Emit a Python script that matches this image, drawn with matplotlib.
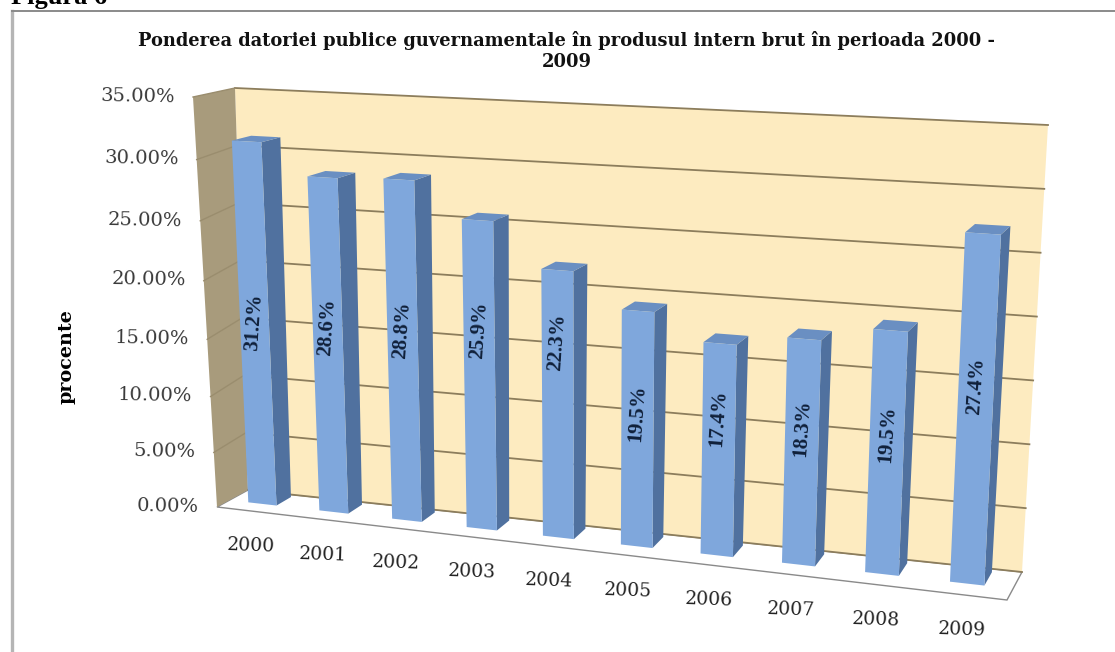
import matplotlib
matplotlib.use('Agg')
import matplotlib.pyplot as plt
from matplotlib.patches import Polygon
import numpy as np

years = ['2000', '2001', '2002', '2003', '2004', '2005', '2006', '2007', '2008', '2009']
values = [31.2, 28.6, 28.8, 25.9, 22.3, 19.5, 17.4, 18.3, 19.5, 27.4]
y_ticks = [0, 5, 10, 15, 20, 25, 30, 35]
y_max = 35.0

title = 'Ponderea datoriei publice guvernamentale în produsul intern brut în perioada 2000 -\n2009'

# how far each value label sits above the middle of its bar, in percent
label_lift = [0.4, 1.8, 2.0, 3.9, 5.3, 1.4, 2.7, 2.0, 1.6, 2.0]

WALL = '#fdebc0'
SIDE = '#a89b7c'
FRONT = '#7fa7dc'
DARK = '#50719f'
CAP = '#6a8fc2'
GRID = '#8c7d5c'
SERIF = 'DejaVu Serif'

# pixel corners of the fake 3D box, (side, height, depth)
corners = {
    (0, 0, 0): (217, 507), (1, 0, 0): (1007, 600),
    (0, 1, 0): (193, 97), (1, 1, 0): (1028, 140),
    (0, 0, 1): (248, 490), (1, 0, 1): (1022, 572),
    (0, 1, 1): (235, 88), (1, 1, 1): (1048, 125),
}
# slots get wider towards the right
persp = 0.11
# height scale sags towards the front of the box
sag = 0.08


def proj(x, v, z, sag_z=None):
    # x in slots 0..10, v in percent, z depth 0..1
    if sag_z is None:
        sag_z = z
    u = x / len(years)
    u = (1 - persp) * u + persp * u * u
    h = v / y_max
    h = h - sag * h * (1 - h) * (1 - sag_z)
    p = np.zeros(2)
    for (a, b, c), xy in corners.items():
        w = (u if a else 1 - u) * (h if b else 1 - h) * (z if c else 1 - z)
        p = p + w * np.array(xy)
    return p


def quad(ax, pts, color, zorder, ec='none'):
    ax.add_patch(Polygon(pts, closed=True, fc=color, ec=ec, lw=1, zorder=zorder))


fig = plt.figure(figsize=(11.15, 6.52), dpi=100)
ax = fig.add_axes([0, 0, 1, 1])
ax.set_xlim(0, 1115)
ax.set_ylim(652, 0)
ax.axis('off')

# page frame
ax.plot([12, 12], [11, 652], color='#b5b5b5', lw=2.4, zorder=1)
ax.plot([12, 1115], [11, 11], color='#8a8a8a', lw=1.4, zorder=1)
ax.text(11, 4, 'Figura 6', family='Liberation Serif', weight='bold', fontsize=19, color='black', va='baseline')

n = len(years)
# floor and walls
quad(ax, [proj(0, 0, 0), proj(n, 0, 0), proj(n, 0, 1), proj(0, 0, 1)], 'white', 2, ec='#8a8a8a')
quad(ax, [proj(0, 0, 1), proj(n, 0, 1), proj(n, y_max, 1), proj(0, y_max, 1)], WALL, 2)
quad(ax, [proj(0, 0, 0), proj(0, 0, 1), proj(0, y_max, 1), proj(0, y_max, 0)], SIDE, 2)

for t in y_ticks:
    a, b, c = proj(0, t, 0), proj(0, t, 1), proj(n, t, 1)
    ax.plot([b[0], c[0]], [b[1], c[1]], color=GRID, lw=1.3, zorder=3)
    if t > 0:
        ax.plot([a[0], b[0]], [a[1], b[1]], color='#9a8d6e', lw=1, zorder=3)
    ax.text(a[0] - 18, a[1], '%.2f%%' % t, family=SERIF, fontsize=14, color='#3a3a3a',
            ha='right', va='center', rotation=-1, rotation_mode='anchor')

# bars
z0, z1 = 0.4, 0.88
bw = 0.2
mid = 0.47
for i, v in enumerate(values):
    l, r = i + mid - bw, i + mid + bw
    zo = 5 + i
    fl, fr = proj(l, v, z0), proj(r, v, z0)
    bl, br = proj(l, v, z1, z0), proj(r, v, z1, z0)
    quad(ax, [proj(r, 0, z0), proj(r, 0, z1), br, fr], DARK, zo)
    quad(ax, [fl, fr, br, bl], CAP, zo)
    quad(ax, [proj(l, 0, z0), proj(r, 0, z0), fr, fl], FRONT, zo)
    c = proj(i + mid, v / 2 + label_lift[i], z0)
    ax.text(c[0], c[1], '%.1f%%' % v, family='Liberation Serif', weight='bold', fontsize=15,
            color='#10203a', ha='center', va='center', rotation=86, zorder=30)

# year labels under the front edge
for i, lab in enumerate(years):
    p = proj(i + 0.5, 0, 0)
    ax.text(p[0] - 2, p[1] + 35, lab, family=SERIF, fontsize=13.5, color='#222222',
            ha='center', va='center', rotation=-2)

ax.text(567, 51, title, family=SERIF, weight='bold', fontsize=12.9, color='#111111',
        ha='center', va='center', linespacing=1.25)
ax.text(67, 357, 'procente', family=SERIF, weight='bold', fontsize=13.8, color='black',
        ha='center', va='center', rotation=90)

fig.savefig('out.png', dpi=100, facecolor='white')
